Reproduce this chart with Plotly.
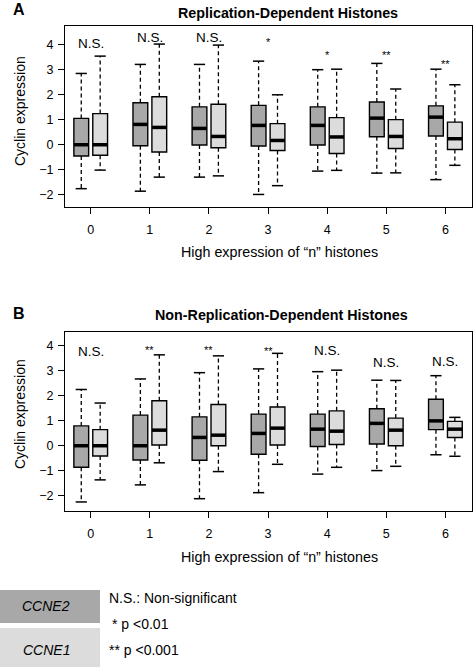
import plotly.graph_objects as go

# ---------------- data ----------------
groups = [0, 1, 2, 3, 4, 5, 6]
tick_labels = ["0", "1", "2", "3", "4", "5", "6"]

# Panel A: Replication-Dependent Histones
A_ccne2_lower = [-1.75, -1.85, -1.29, -1.98, -1.05, -1.13, -1.39]
A_ccne2_q1 = [-0.45, -0.04, -0.01, -0.05, -0.01, 0.32, 0.35]
A_ccne2_median = [0.00, 0.81, 0.65, 0.77, 0.77, 1.06, 1.10]
A_ccne2_q3 = [1.05, 1.67, 1.51, 1.57, 1.51, 1.70, 1.55]
A_ccne2_upper = [2.84, 3.20, 3.20, 3.33, 2.99, 3.24, 3.01]

A_ccne1_lower = [-1.01, -1.29, -1.24, -1.63, -1.02, -1.12, -0.82]
A_ccne1_q1 = [-0.42, -0.29, -0.12, -0.23, -0.35, -0.15, -0.19]
A_ccne1_median = [0.00, 0.69, 0.33, 0.17, 0.31, 0.33, 0.24]
A_ccne1_q3 = [1.24, 1.91, 1.61, 0.84, 1.08, 1.00, 0.90]
A_ccne1_upper = [3.53, 4.01, 3.97, 1.99, 3.01, 2.22, 2.39]

A_sig = ["N.S.", "N.S.", "N.S.", "*", "*", "**", "**"]
A_sig_y = [4.04, 4.26, 4.26, 4.21, 3.68, 3.68, 3.33]

# Panel B: Non-Replication-Dependent Histones
B_ccne2_lower = [-2.24, -1.56, -2.11, -1.87, -1.13, -0.99, -0.36]
B_ccne2_q1 = [-0.86, -0.57, -0.58, -0.34, -0.03, 0.07, 0.64]
B_ccne2_median = [0.00, 0.00, 0.33, 0.49, 0.66, 0.89, 0.99]
B_ccne2_q3 = [0.79, 1.22, 1.15, 1.26, 1.26, 1.47, 1.85]
B_ccne2_upper = [2.24, 2.66, 2.91, 3.06, 2.95, 2.61, 2.79]

B_ccne1_lower = [-1.36, -0.68, -1.03, -0.74, -0.86, -0.82, -0.42]
B_ccne1_q1 = [-0.41, 0.03, 0.00, 0.03, 0.05, 0.00, 0.33]
B_ccne1_median = [0.00, 0.62, 0.42, 0.70, 0.58, 0.62, 0.66]
B_ccne1_q3 = [0.64, 1.79, 1.64, 1.54, 1.39, 1.10, 0.97]
B_ccne1_upper = [1.70, 3.62, 3.58, 3.68, 3.01, 2.60, 1.13]

B_sig = ["N.S.", "**", "**", "**", "N.S.", "N.S.", "N.S."]
B_sig_y = [3.77, 3.93, 3.93, 3.89, 3.80, 3.30, 3.35]

titles = ["Replication-Dependent Histones", "Non-Replication-Dependent Histones"]
panel_letters = ["A", "B"]
x_title = "High expression of “n” histones"
y_title = "Cyclin expression"
series_names = ["CCNE2", "CCNE1"]
legend_notes = ["N.S.: Non-significant", "* p <0.01", "** p <0.001"]

# ---------------- style ----------------
W, H = 473, 667
FONT = "Liberation Sans, Arial, Helvetica, sans-serif"
DARK = "#a8a8a8"
LIGHT = "#dcdcdc"
OFFSET = 0.16
BOXW = 0.25
CAP = 8


def px(x):
    return x / W


def py(y):
    return 1 - y / H


fig = go.Figure()


def add_series(xa, ya, off, color, lower, q1, med, q3, upper, name):
    xs = [g + off for g in groups]
    fig.add_trace(go.Box(
        x=xs, q1=q1, median=med, q3=q3, lowerfence=q1, upperfence=q3,
        width=BOXW, fillcolor=color, line=dict(color="black", width=1.4),
        whiskerwidth=0, xaxis=xa, yaxis=ya, name=name, showlegend=False,
        hoverinfo="skip", boxpoints=False))
    # dashed whiskers
    wx, wy = [], []
    for x, lo, a, b, hi in zip(xs, lower, q1, q3, upper):
        wx += [x, x, None, x, x, None]
        wy += [b, hi, None, a, lo, None]
    fig.add_trace(go.Scatter(x=wx, y=wy, mode="lines", xaxis=xa, yaxis=ya,
                             line=dict(color="black", width=1.3, dash="4px,3px"),
                             showlegend=False, hoverinfo="skip"))
    # caps
    fig.add_trace(go.Scatter(x=xs + xs, y=list(lower) + list(upper), mode="markers",
                             xaxis=xa, yaxis=ya,
                             marker=dict(symbol="line-ew", size=CAP,
                                         line=dict(color="black", width=1.5)),
                             showlegend=False, hoverinfo="skip"))
    # thick median
    mx, my = [], []
    for x, m in zip(xs, med):
        mx += [x - BOXW / 2, x + BOXW / 2, None]
        my += [m, m, None]
    fig.add_trace(go.Scatter(x=mx, y=my, mode="lines", xaxis=xa, yaxis=ya,
                             line=dict(color="black", width=3.5),
                             showlegend=False, hoverinfo="skip"))


add_series("x", "y", -OFFSET, DARK, A_ccne2_lower, A_ccne2_q1, A_ccne2_median,
           A_ccne2_q3, A_ccne2_upper, series_names[0])
add_series("x", "y", OFFSET, LIGHT, A_ccne1_lower, A_ccne1_q1, A_ccne1_median,
           A_ccne1_q3, A_ccne1_upper, series_names[1])
add_series("x2", "y2", -OFFSET, DARK, B_ccne2_lower, B_ccne2_q1, B_ccne2_median,
           B_ccne2_q3, B_ccne2_upper, series_names[0])
add_series("x2", "y2", OFFSET, LIGHT, B_ccne1_lower, B_ccne1_q1, B_ccne1_median,
           B_ccne1_q3, B_ccne1_upper, series_names[1])

annotations = []
for sig, sy, xa, ya in [(A_sig, A_sig_y, "x", "y"), (B_sig, B_sig_y, "x2", "y2")]:
    for g, s, yv in zip(groups, sig, sy):
        star = s.startswith("*")
        annotations.append(dict(
            x=g, y=yv, xref=xa, yref=ya, text=s, showarrow=False,
            xanchor="center", yanchor="middle",
            font=dict(size=11 if star else 13.5, color="black", family=FONT),
            yshift=-3 if star else 0))


def paper_text(text, x, y, size, xanchor="center", angle=0):
    annotations.append(dict(x=px(x), y=py(y), xref="paper", yref="paper",
                            xanchor=xanchor, yanchor="middle", text=text,
                            showarrow=False, textangle=angle,
                            font=dict(size=size, color="black", family=FONT)))


# titles and panel letters
for t, tx, ty in [(titles[0], 287.5, 13), (titles[1], 281, 315)]:
    paper_text("<b>%s</b>" % t, tx, ty, 14.3)
for t, tx, ty in [(panel_letters[0], 19, 10), (panel_letters[1], 19, 313)]:
    paper_text("<b>%s</b>" % t, tx, ty, 16)

# axis titles
for tx, ty in [(279, 252), (279, 557)]:
    paper_text(x_title, tx, ty, 14.3)
for tx, ty in [(20, 111), (20, 414)]:
    paper_text(y_title, tx, ty, 14, angle=-90)

# legend area
shapes = [
    dict(type="rect", xref="paper", yref="paper", x0=0, x1=px(100),
         y0=py(623), y1=py(590), fillcolor=DARK, line=dict(width=0), layer="below"),
    dict(type="rect", xref="paper", yref="paper", x0=0, x1=px(100),
         y0=py(667), y1=py(628), fillcolor=LIGHT, line=dict(width=0), layer="below"),
]
for t, ty in [(series_names[0], 606), (series_names[1], 650)]:
    paper_text("<i>%s</i>" % t, 46, ty, 14)
for t, tx, ty in [(legend_notes[0], 107, 598), (legend_notes[1], 110, 624),
                  (legend_notes[2], 107, 650)]:
    paper_text(t, tx, ty, 14, xanchor="left")

axis_common = dict(showline=True, linecolor="black", linewidth=1.2, mirror=True,
                   ticks="outside", ticklen=6, tickwidth=1.2, tickcolor="black",
                   showgrid=False, zeroline=False,
                   tickfont=dict(size=12.5, color="black", family=FONT))

xa = dict(axis_common, tickvals=groups, ticktext=tick_labels, range=[-0.435, 6.45],
          ticklabelstandoff=5)
ya = dict(axis_common, tickvals=[-2, -1, 0, 1, 2, 3, 4], range=[-2.48, 4.73],
          ticklabelstandoff=2)

fig.update_layout(
    width=W, height=H, margin=dict(l=0, r=0, t=0, b=0),
    paper_bgcolor="white", plot_bgcolor="white",
    font=dict(family=FONT, color="black"),
    showlegend=False,
    xaxis=dict(xa, domain=[px(65), px(472)], anchor="y"),
    yaxis=dict(ya, domain=[py(207), py(26)], anchor="x"),
    xaxis2=dict(xa, domain=[px(65), px(472)], anchor="y2"),
    yaxis2=dict(ya, domain=[py(511), py(332)], anchor="x2", range=[-2.6, 4.53]),
    annotations=annotations, shapes=shapes,
)

fig.write_html("out.html", config={"displayModeBar": False},
               post_script="document.body.style.margin='0';"
                           "document.body.style.overflow='hidden';")
